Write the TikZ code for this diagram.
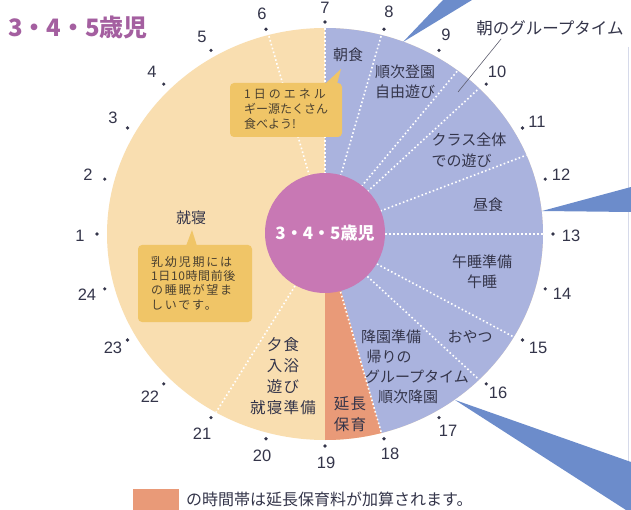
\documentclass[tikz,border=0pt]{standalone}
\usepackage{fontspec}
\setmainfont{Noto Sans CJK JP}
\newfontfamily\numfont{Liberation Sans}
\usetikzlibrary{calc}
\definecolor{cream}{HTML}{F9DEB0}
\definecolor{lav}{HTML}{AAB3DE}
\definecolor{pinkc}{HTML}{C878B4}
\definecolor{salmon}{HTML}{E99A78}
\definecolor{callout}{HTML}{F0C567}
\definecolor{wedgec}{HTML}{6C8CCB}
\definecolor{titlec}{HTML}{A45FA0}
\definecolor{txt}{HTML}{34354A}
\definecolor{boxtxt}{HTML}{4A4030}
\definecolor{faint}{HTML}{D6DAEA}
\tikzset{
  dotline/.style={white, line width=1.6pt, dash pattern=on 1.6pt off 2.4pt},
  hourdot/.style={circle, fill=txt, inner sep=0pt, minimum size=3.6pt},
  hourlbl/.style={font=\numfont\fontsize{16.5}{16}\selectfont, text=txt, inner sep=0pt},
  acttxt/.style={font=\fontsize{15}{20.5}\selectfont, text=txt, inner sep=0pt, align=center},
  creamtxt/.style={font=\fontsize{15.5}{21}\selectfont\addfontfeature{LetterSpace=8}, text=txt, inner sep=0pt, align=center},
  boxtext/.style={font=\fontsize{12}{15}\selectfont, text=boxtxt, inner sep=0pt, align=left, anchor=north west},
  pointer/.style={fill=wedgec},
}
\begin{document}
\begin{tikzpicture}[x=1pt,y=-1pt]
\useasboundingbox (0,0) rectangle (631,510);
\fill[white] (0,0) rectangle (631,510);
% faint panel edge
\draw[faint, line width=0.6pt] (628,47) -- (628,510);
% pointer wedges
\fill[pointer] (403,42) -- (443,0) -- (472,0) -- cycle;
\fill[pointer] (542,211) -- (631,187) -- (631,212) -- cycle;
\fill[pointer] (455,400) -- (631,462) -- (631,510) -- (626,510) -- cycle;
% clock face
\fill[cream] (325,234) ellipse [x radius=218, y radius=206];
\fill[lav] (325,234) -- ({325+218*cos(90)},{234-206*sin(90)})
  arc[start angle=-90, end angle=75, x radius=218, y radius=206] -- cycle;
\fill[salmon] (325,234) -- ({325+218*cos(-75)},{234-206*sin(-75)})
  arc[start angle=75, end angle=90, x radius=218, y radius=206] -- cycle;
% dotted divisions
\foreach \t in {90,75,52.5,45,22.5,0,-30,-45,-75,105,-120}
  \draw[dotline] ({325+60*cos(\t)},{234-60*sin(\t)}) -- ({325+218*cos(\t)},{234-206*sin(\t)});
% centre
\node[circle, fill=pinkc, minimum size=120pt, inner sep=0pt, text=white,
  font=\bfseries\fontsize{17}{17}\selectfont] (centre) at (325,233) {3・4・5歳児};
% title
\node[text=titlec, font=\bfseries\fontsize{24}{24}\selectfont, inner sep=0pt] (title) at (78,27) {3・4・5歳児};
% hour marks
\foreach \h/\lx/\ly in {7/325/8, 8/389/12, 9/446/35, 10/497/72, 11/537/122, 12/561/175,
  13/571/236, 14/562/294, 15/538/348, 16/498/393, 17/448/431, 18/390/454, 19/326/463,
  20/262/456, 21/202/434, 22/150/397, 23/113/348, 24/87/295, 1/80/236, 2/88/175,
  3/113/118, 4/152/72, 5/202/37, 6/262/14} {
  \pgfmathsetmacro\t{90-15*(\h-7)}
  \node[hourdot] (d\h) at ({325+228*cos(\t)},{234-212*sin(\t)}) {};
  \node[hourlbl] (h\h) at (\lx,\ly) {\h};
}
% activities (blue)
\node[acttxt] (choshoku) at (348,55) {朝食};
\node[acttxt] (toen) at (405,82) {順次登園\\自由遊び};
\node[acttxt, align=left] (class) at (469,150) {クラス全体\\での遊び};
\node[acttxt] (chushoku) at (488,205) {昼食};
\node[acttxt] (gosui) at (482,272) {午睡準備\\午睡};
\node[acttxt] (oyatsu) at (470,337) {おやつ};
\node[acttxt] (kouen1) at (391,337) {降園準備};
\node[acttxt] (kouen2) at (389,357) {帰りの};
\node[acttxt] (kouen3) at (417,377) {グループタイム};
\node[acttxt] (kouen4) at (408,397) {順次降園};
% extended care
\node[creamtxt] (encho) at (350,414) {延長\\保育};
% cream activities
\node[creamtxt] (yushoku) at (283,376) {夕食\\入浴\\遊び\\就寝準備};
\node[acttxt] (shushin) at (191,218) {就寝};
% morning group time label
\node[font=\fontsize{16.5}{16}\selectfont, text=txt, inner sep=0pt] (asagt) at (550,28) {朝のグループタイム};
\coordinate (asapt) at (458,92);
\draw[txt!80, line width=0.6pt] (asagt.south west) ++(25,3) -- (asapt);
% callout 1
\fill[callout, rounded corners=4pt] (230,83) rectangle (342,137);
\fill[callout] (325,84) -- (337,84) -- (341,69) -- cycle;
\node[boxtext] (c1) at (244,89) {{\addfontfeature{LetterSpace=25}1日のエネル}\\ギー源たくさん\\食べよう!};
% callout 2
\fill[callout, rounded corners=4pt] (138,245) rectangle (252,322);
\fill[callout] (186,246) -- (197,246) -- (192,230) -- cycle;
\node[boxtext, font=\fontsize{12}{14.3}\selectfont\addfontfeature{LetterSpace=15}] (c2) at (151,256) {乳幼児期には\\{\addfontfeature{LetterSpace=5}1日10時間前後}\\の睡眠が望ま\\しいです。};
% legend
\node[fill=salmon, minimum width=46pt, minimum height=21pt, inner sep=0pt] (legbox) at (156,499.5) {};
\node[anchor=west, font=\fontsize{16}{16}\selectfont, text=txt, inner sep=0pt] (legtxt) at (186,499) {の時間帯は延長保育料が加算されます。};
\end{tikzpicture}
\end{document}
